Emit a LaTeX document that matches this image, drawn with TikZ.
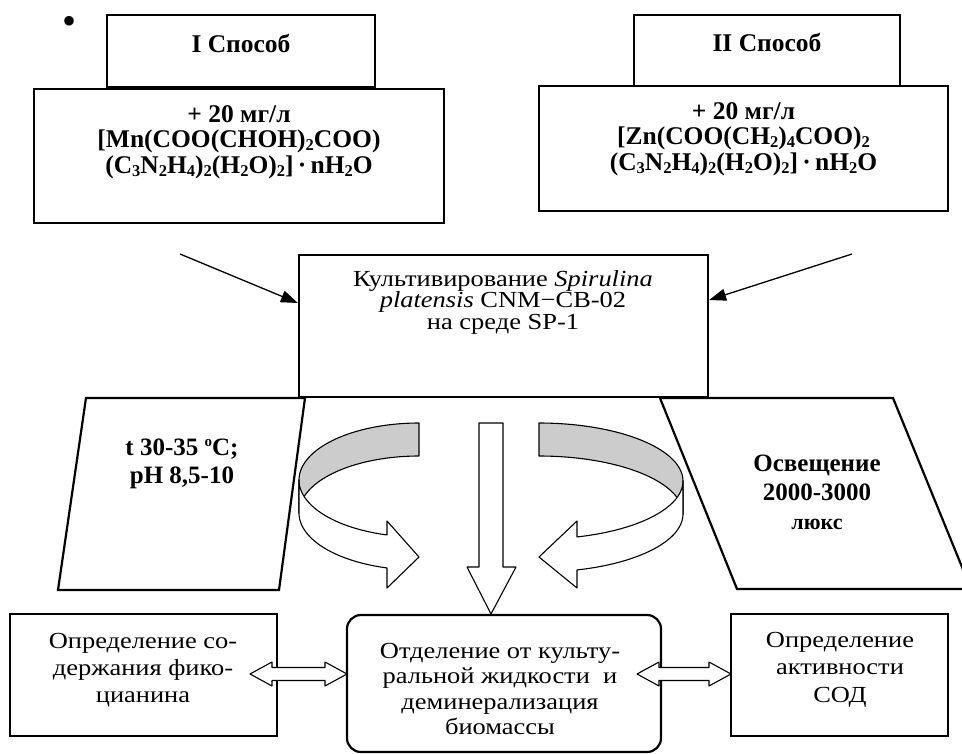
\documentclass[tikz,border=0pt]{standalone}
\usepackage{fontspec}
\setmainfont{Liberation Serif}
\newfontfamily\regfont[FakeStretch=1.15]{Liberation Serif}
\usetikzlibrary{arrows.meta,calc}
\newcommand\sbx[1]{\raisebox{-0.25ex}{\fontsize{16.5}{16.5}\selectfont #1}}
\newcommand\dblarr[3]{\draw[thinln,fill=white] (#1,#3) -- ++(22,-12) -- ++(0,5.5) -- ({#2-22},{#3-6.5}) -- ++(0,-5.5) -- (#2,#3) -- ++(-22,12) -- ++(0,-5.5) -- ({#1+22},{#3+6.5}) -- ++(0,5.5) -- cycle;}
\begin{document}
\begin{tikzpicture}[x=1pt,y=-1pt,
  boxst/.style={draw, line width=2.2pt, inner sep=0pt, fill=white},
  btxt/.style={align=center, font=\fontsize{25.5}{25.5}\selectfont\bfseries, inner sep=0pt},
  rtxt/.style={align=center, inner sep=0pt},
  thinln/.style={line width=1.1pt, line join=round},
  para/.style={line width=2.2pt, line join=miter},
  sl/.style={line width=1.3pt, -{Triangle[length=17pt,width=12pt]}},
]
\fill[white] (0,0) rectangle (962,753);
\useasboundingbox (0,0) rectangle (962,753);

% bullet
\node[inner sep=0pt, font=\fontsize{40}{40}\selectfont] (bul) at (70,25) {•};

% top boxes
\node[boxst, minimum width=268pt, minimum height=72pt] (m1) at (241,51) {};
\node[boxst, minimum width=410pt, minimum height=134pt] (mn) at (239,156) {};
\node[boxst, minimum width=266pt, minimum height=72pt] (m2) at (767,51) {};
\node[boxst, minimum width=409pt, minimum height=125pt] (zn) at (743.5,148.5) {};

\node[btxt] (t1) at (241,43) {I Способ};
\node[btxt] (t2) at (767,42) {II Способ};
\node[btxt] (mntxt) at (239,142) {+ 20 мг/л\\{[}Mn(COO(CHOH)\sbx{2}COO)\\(C\sbx{3}N\sbx{2}H\sbx{4})\sbx{2}(H\sbx{2}O)\sbx{2}]\,·\,nH\sbx{2}O};
\node[btxt] (zntxt) at (743.5,139) {+ 20 мг/л\\{[}Zn(COO(CH\sbx{2})\sbx{4}COO)\sbx{2}\\(C\sbx{3}N\sbx{2}H\sbx{4})\sbx{2}(H\sbx{2}O)\sbx{2}]\,·\,nH\sbx{2}O};

% parallelograms
\draw[para] (86,398) -- (305,398) -- (279,590) -- (58,590) -- cycle;
\draw[para] (660,398) -- (893,398) -- (971,589) -- (737,589) -- cycle;
\node[rtxt, font=\fontsize{25}{28}\selectfont\bfseries] (ptl) at (182,464) {t 30-35 \raisebox{0.85ex}{\fontsize{15}{15}\selectfont o}C;\\pH 8,5-10};
\node[rtxt, font=\fontsize{25}{29}\selectfont\bfseries] (ptr) at (817,492) {Освещение\\2000-3000\\{\fontsize{22}{29}\selectfont люкс}};

% central box
\node[boxst, minimum width=409pt, minimum height=142pt] (cult) at (503.5,326) {};
\node[rtxt, font={\regfont\fontsize{23}{21.5}\selectfont}] (culttxt) at (503,302) {Культивирование \textit{Spirulina}\\\textit{platensis} CNM−CB-02\\на среде SP-1};

% slanted arrows
\coordinate (la) at (180,254);
\coordinate (ra) at (852,254);
\draw[sl] (la) -- ([yshift=23pt]cult.west);
\draw[sl] (ra) -- ([yshift=26pt]cult.east);

% ribbons
\draw[thinln, fill=black!20] plot[domain=90:180, samples=40] ({419+120*cos(\x)},{480-57*sin(\x)}) -- (299,513) -- plot[domain=180:90, samples=40] ({419+120*cos(\x)},{513-57*sin(\x)}) -- cycle;
\draw[thinln, fill=white] plot[domain=180:105.47, samples=40] ({419+120*cos(\x)},{480+57*sin(\x)}) -- (387,521) -- (419,557) -- (387,588) -- plot[domain=105.47:180, samples=40] ({419+120*cos(\x)},{513+57*sin(\x)}) -- cycle;
\draw[thinln, fill=black!20] plot[domain=90:0, samples=40] ({539+144*cos(\x)},{481-58*sin(\x)}) -- (683,514) -- plot[domain=0:90, samples=40] ({539+144*cos(\x)},{514-58*sin(\x)}) -- cycle;
\draw[thinln, fill=white] plot[domain=0:74.7, samples=40] ({539+144*cos(\x)},{481+58*sin(\x)}) -- (577,521) -- (539,557) -- (577,588) -- plot[domain=74.7:0, samples=40] ({539+144*cos(\x)},{514+58*sin(\x)}) -- cycle;

% down block arrow
\draw[thinln, fill=white] (479,423) -- (503,423) -- (503,567) -- (516,567) -- (491,614) -- (467,567) -- (479,567) -- cycle;

% bottom boxes
\node[boxst, minimum width=267pt, minimum height=122pt] (phy) at (143.5,675) {};
\node[boxst, minimum width=217pt, minimum height=122pt] (sod) at (839.5,675) {};
\node[boxst, rounded corners=14pt, minimum width=314pt, minimum height=137pt] (sep) at (504,683.5) {};

\node[rtxt, font={\regfont\fontsize{23}{27}\selectfont}] (phytxt) at (143,670) {Определение со-\\держания фико-\\цианина};
\node[rtxt, font={\regfont\fontsize{23}{27.5}\selectfont}] (sodtxt) at (840,669.5) {Определение\\активности\\СОД};
\node[rtxt, font={\regfont\fontsize{23}{25.5}\selectfont}] (septxt) at (500,689) {Отделение от культу-\\ральной жидкости~~и\\деминерализация\\биомассы};

% double arrows
\dblarr{250}{347}{674}
\dblarr{637}{731}{674}
\end{tikzpicture}
\end{document}
